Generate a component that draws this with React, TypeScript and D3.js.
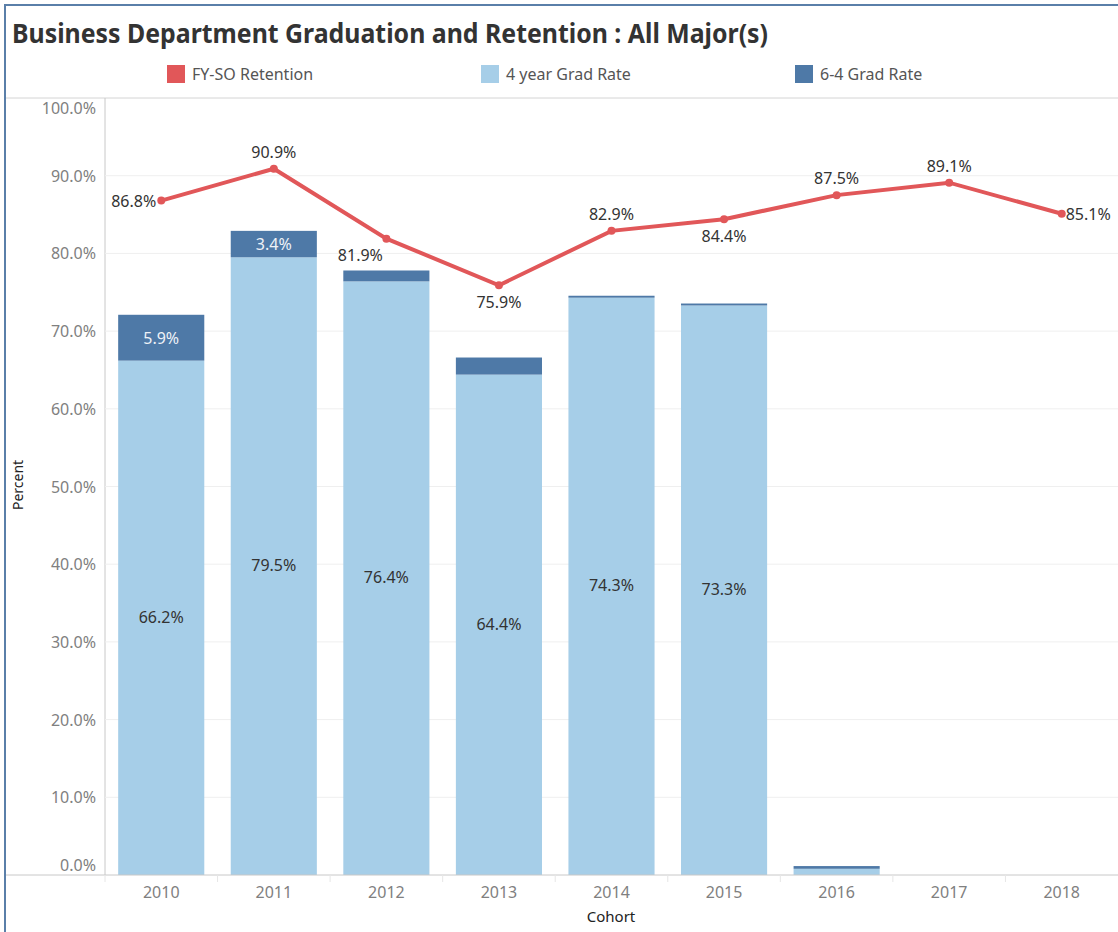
import React, { useEffect, useRef } from "react";
import * as d3 from "d3";

const cohorts = ["2010", "2011", "2012", "2013", "2014", "2015", "2016", "2017", "2018"];
const retention = [86.8, 90.9, 81.9, 75.9, 82.9, 84.4, 87.5, 89.1, 85.1];
const grad4 = [66.2, 79.5, 76.4, 64.4, 74.3, 73.3, 0.8, 0, 0];
const grad64 = [5.9, 3.4, 1.4, 2.2, 0.25, 0.25, 0.35, 0, 0];
const show4Labels = [true, true, true, true, true, true, false, false, false];
const show64Labels = [true, true, false, false, false, false, false, false, false];
// where each retention label sits relative to its point
const retLabelPos = ["left", "above", "belowLeft", "below", "above", "below", "above", "above", "right"];
const yTicks = [0, 10, 20, 30, 40, 50, 60, 70, 80, 90, 100];

const RED = "#e15759";
const LIGHT = "#a6cee8";
const DARK = "#4e79a7";
const FONT = "'Noto Sans', 'Open Sans', sans-serif";

const App = () => {
  const chartRef = useRef<HTMLDivElement>(null);

  useEffect(() => {
    if (!chartRef.current) return;
    d3.select(chartRef.current).select("svg").remove();

    const width = 1118;
    const height = 932;
    const left = 105;
    const top = 98;
    const bottom = 875;

    const svg = d3
      .select(chartRef.current)
      .append("svg")
      .attr("width", width)
      .attr("height", height)
      .style("font-family", FONT);

    const x = d3.scaleBand().domain(cohorts).range([left, width]).paddingInner(0.235).paddingOuter(0.117);
    const band = d3.scaleBand().domain(cohorts).range([left, width]);
    const y = d3.scaleLinear().domain([0, 100]).range([bottom, top]);

    // dashboard frame
    svg.append("line").attr("x1", 4).attr("x2", width).attr("y1", 5).attr("y2", 5).attr("stroke", "#5a7fa9").attr("stroke-width", 2);
    svg.append("line").attr("x1", 5).attr("x2", 5).attr("y1", 4).attr("y2", height).attr("stroke", "#5a7fa9").attr("stroke-width", 2);

    // title
    svg
      .append("text")
      .attr("x", 12)
      .attr("y", 43)
      .attr("font-size", 26)
      .attr("font-weight", "bold")
      .attr("fill", "#333")
      .attr("textLength", 756)
      .attr("lengthAdjust", "spacingAndGlyphs")
      .text("Business Department Graduation and Retention : All Major(s)");

    // legend
    const legend = [
      { label: "FY-SO Retention", color: RED, x: 167 },
      { label: "4 year Grad Rate", color: LIGHT, x: 481 },
      { label: "6-4 Grad Rate", color: DARK, x: 795 },
    ];
    const lg = svg.selectAll("g.legend").data(legend).enter().append("g").attr("class", "legend");
    lg.append("rect").attr("x", (d) => d.x).attr("y", 65).attr("width", 18).attr("height", 18).attr("fill", (d) => d.color);
    lg.append("text")
      .attr("x", (d) => d.x + 25)
      .attr("y", 80)
      .attr("font-size", 16)
      .attr("fill", "#555")
      .text((d) => d.label);

    // header separator + axes frame
    svg.append("line").attr("x1", 6).attr("x2", width).attr("y1", top).attr("y2", top).attr("stroke", "#d4d4d4");
    svg.append("line").attr("x1", left).attr("x2", left).attr("y1", top).attr("y2", bottom).attr("stroke", "#c8c8c8");

    // gridlines
    svg
      .selectAll("line.grid")
      .data(yTicks.filter((t) => t > 0 && t < 100))
      .enter()
      .append("line")
      .attr("class", "grid")
      .attr("x1", left)
      .attr("x2", width)
      .attr("y1", (d) => y(d))
      .attr("y2", (d) => y(d))
      .attr("stroke", "#efefef");

    // y tick labels
    svg
      .selectAll("text.ytick")
      .data(yTicks)
      .enter()
      .append("text")
      .attr("class", "ytick")
      .attr("x", 96)
      .attr("y", (d) => (d === 100 ? y(d) + 16 : d === 0 ? y(d) - 4 : y(d) + 6))
      .attr("text-anchor", "end")
      .attr("font-size", 16)
      .attr("fill", "#808080")
      .text((d) => d.toFixed(1) + "%");

    svg
      .append("text")
      .attr("transform", "translate(23,485) rotate(-90)")
      .attr("text-anchor", "middle")
      .attr("font-size", 14)
      .attr("fill", "#222")
      .text("Percent");

    // bars
    const bars = svg.selectAll("g.bar").data(cohorts).enter().append("g").attr("class", "bar");
    bars
      .append("rect")
      .attr("x", (d) => x(d)!)
      .attr("width", x.bandwidth())
      .attr("y", (d, i) => y(grad4[i]))
      .attr("height", (d, i) => y(0) - y(grad4[i]))
      .attr("fill", LIGHT);
    bars
      .append("rect")
      .attr("x", (d) => x(d)!)
      .attr("width", x.bandwidth())
      .attr("y", (d, i) => y(grad4[i] + grad64[i]))
      .attr("height", (d, i) => y(grad4[i]) - y(grad4[i] + grad64[i]))
      .attr("fill", DARK);
    bars
      .filter((d, i) => show4Labels[i])
      .append("text")
      .attr("x", (d) => x(d)! + x.bandwidth() / 2)
      .attr("y", (d) => y(grad4[cohorts.indexOf(d)] / 2) + 5)
      .attr("text-anchor", "middle")
      .attr("font-size", 16)
      .attr("fill", "#333")
      .text((d) => grad4[cohorts.indexOf(d)].toFixed(1) + "%");
    bars
      .filter((d, i) => show64Labels[i])
      .append("text")
      .attr("x", (d) => x(d)! + x.bandwidth() / 2)
      .attr("y", (d) => {
        const i = cohorts.indexOf(d);
        return y(grad4[i] + grad64[i] / 2) + 6;
      })
      .attr("text-anchor", "middle")
      .attr("font-size", 16)
      .attr("fill", "#eef2f7")
      .text((d) => grad64[cohorts.indexOf(d)].toFixed(1) + "%");

    // baseline + x ticks
    svg.append("line").attr("x1", 6).attr("x2", width).attr("y1", bottom).attr("y2", bottom).attr("stroke", "#c8c8c8");
    svg
      .selectAll("line.xtick")
      .data(cohorts)
      .enter()
      .append("line")
      .attr("class", "xtick")
      .attr("x1", (d) => band(d)!)
      .attr("x2", (d) => band(d)!)
      .attr("y1", bottom)
      .attr("y2", bottom + 7)
      .attr("stroke", "#e6e6e6");
    svg
      .selectAll("text.xtick")
      .data(cohorts)
      .enter()
      .append("text")
      .attr("class", "xtick")
      .attr("x", (d) => band(d)! + band.bandwidth() / 2)
      .attr("y", 898)
      .attr("text-anchor", "middle")
      .attr("font-size", 16)
      .attr("fill", "#808080")
      .text((d) => d);
    svg
      .append("text")
      .attr("x", 611)
      .attr("y", 922)
      .attr("text-anchor", "middle")
      .attr("font-size", 15)
      .attr("fill", "#222")
      .text("Cohort");

    // retention line
    const cx = (d: string) => band(d)! + band.bandwidth() / 2;
    const line = d3
      .line<number>()
      .x((d, i) => cx(cohorts[i]))
      .y((d) => y(d));
    svg.append("path").attr("d", line(retention)).attr("fill", "none").attr("stroke", RED).attr("stroke-width", 4);
    svg
      .selectAll("circle.ret")
      .data(retention)
      .enter()
      .append("circle")
      .attr("class", "ret")
      .attr("cx", (d, i) => cx(cohorts[i]))
      .attr("cy", (d) => y(d))
      .attr("r", 4)
      .attr("fill", RED);

    const offsets: Record<string, [number, number, string]> = {
      left: [-5, 6, "end"],
      right: [4, 6, "start"],
      above: [0, -11, "middle"],
      below: [0, 23, "middle"],
      belowLeft: [-26, 22, "middle"],
    };
    svg
      .selectAll("text.ret")
      .data(retention)
      .enter()
      .append("text")
      .attr("class", "ret")
      .attr("x", (d, i) => cx(cohorts[i]) + offsets[retLabelPos[i]][0])
      .attr("y", (d, i) => y(d) + offsets[retLabelPos[i]][1])
      .attr("text-anchor", (d, i) => offsets[retLabelPos[i]][2])
      .attr("font-size", 16)
      .attr("fill", "#333")
      .text((d) => d.toFixed(1) + "%");
  }, []);

  return <div ref={chartRef} style={{ position: "absolute", left: 0, top: 0 }}></div>;
};

export default App;
